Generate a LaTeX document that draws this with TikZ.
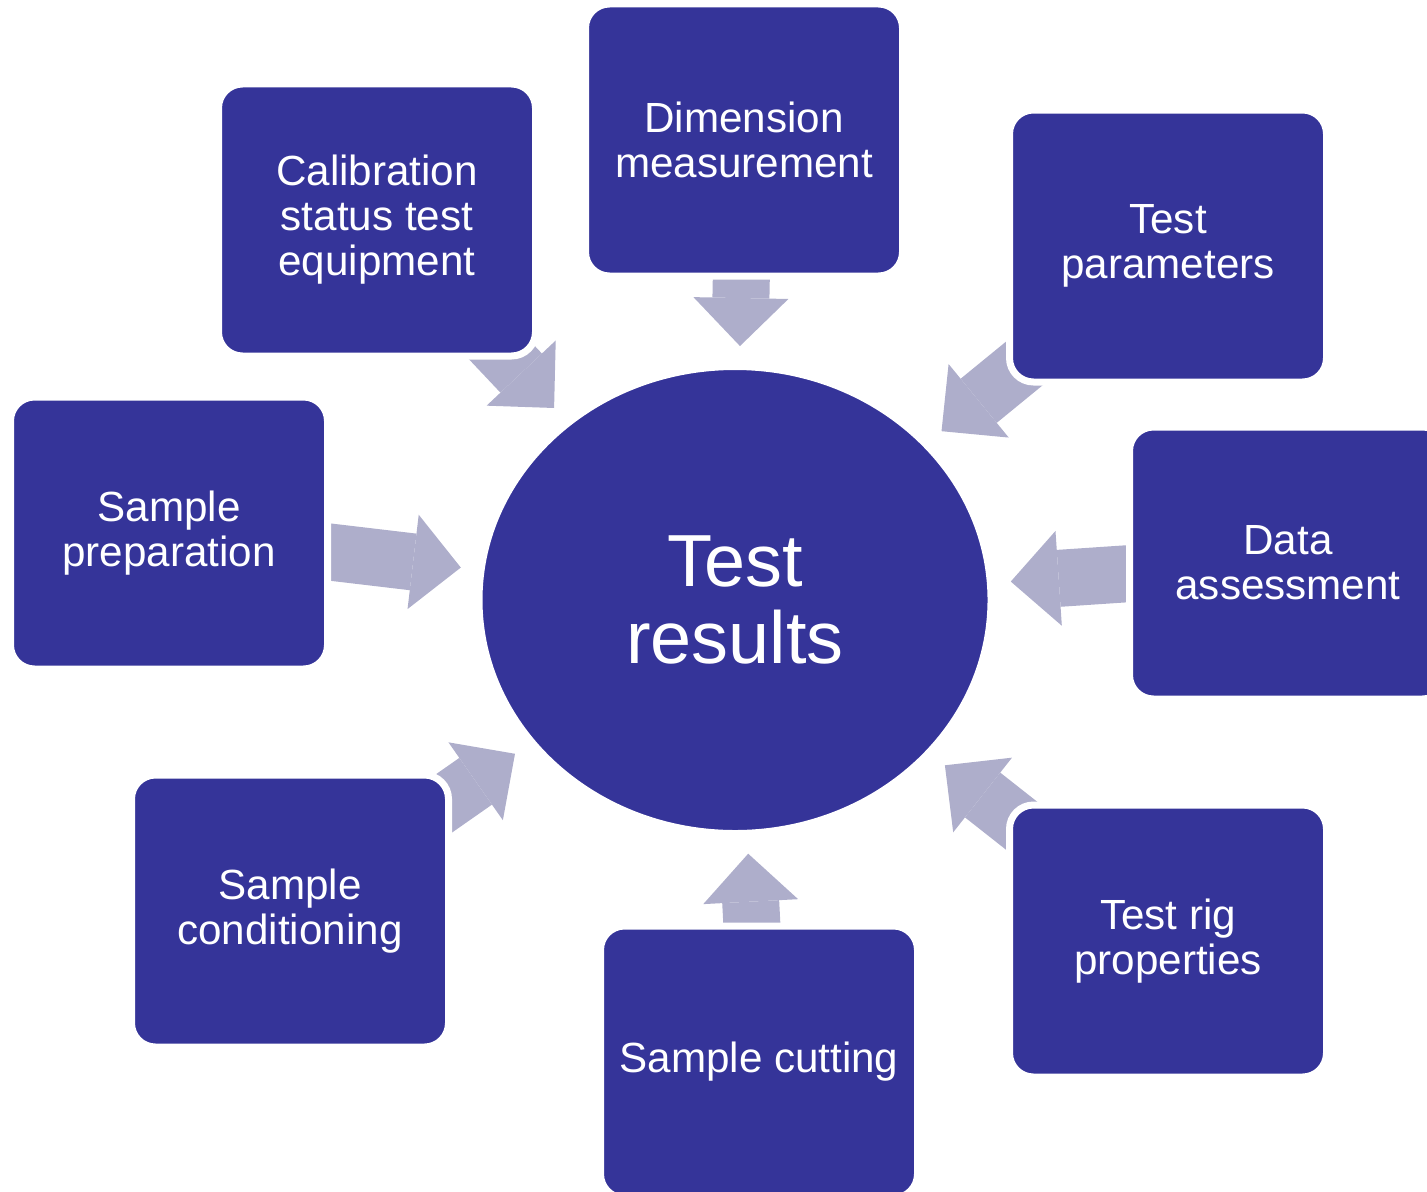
\documentclass[tikz,border=0pt]{standalone}
\usepackage{fontspec}
\setmainfont{Liberation Sans}
\usetikzlibrary{shapes.geometric,arrows.meta,backgrounds}
\definecolor{boxblue}{RGB}{53,52,153}
\definecolor{flowgrey}{RGB}{174,174,203}

\begin{document}
\begin{tikzpicture}[
	box/.style={rectangle, rounded corners=0.24cm, fill=boxblue, draw=white, line width=0.07cm, minimum width=3.17cm, minimum height=2.72cm, inner sep=0pt, text=white, align=center, font=\fontsize{12}{12.8}\selectfont},
	flow/.style={draw=flowgrey, line width=0.57cm, -{Triangle[width=0.95cm,length=0.48cm,line width=0pt]}, shorten >=0.17cm, shorten <=-0.4cm}]
	\useasboundingbox (0,0) rectangle (14.27,11.91);
	% centre
	\node[ellipse, fill=boxblue, draw=white, line width=0.07cm, minimum width=5.12cm, minimum height=4.67cm, inner sep=0pt, text=white, align=center, font=\fontsize{21}{22}\selectfont] (res) at (7.35,5.91) {Test\\results};
	% surrounding boxes
	\node[box] (calib) at (3.77,9.71) {Calibration\\status test\\equipment};
	\node[box] (dim) at (7.44,10.51) {Dimension\\measurement};
	\node[box] (par) at (11.68,9.45) {Test\\parameters};
	\node[box] (data) at (12.88,6.28) {Data\\assessment};
	\node[box] (rig) at (11.68,2.50) {Test rig\\properties};
	\node[box] (cut) at (7.59,1.29) {Sample cutting};
	\node[box] (cond) at (2.90,2.80) {Sample\\conditioning};
	\node[box] (prep) at (1.69,6.58) {Sample\\preparation};
	% block arrows
	\begin{pgfonlayer}{background}
		\draw[flow] (calib) -- (res);
		\draw[flow] (dim) -- (res);
		\draw[flow] (par) -- (res);
		\draw[flow] (data) -- (res);
		\draw[flow] (rig) -- (res);
		\draw[flow] (cut) -- (res);
		\draw[flow] (cond) -- (res);
		\draw[flow] (prep) -- (res);
	\end{pgfonlayer}
\end{tikzpicture}
\end{document}
